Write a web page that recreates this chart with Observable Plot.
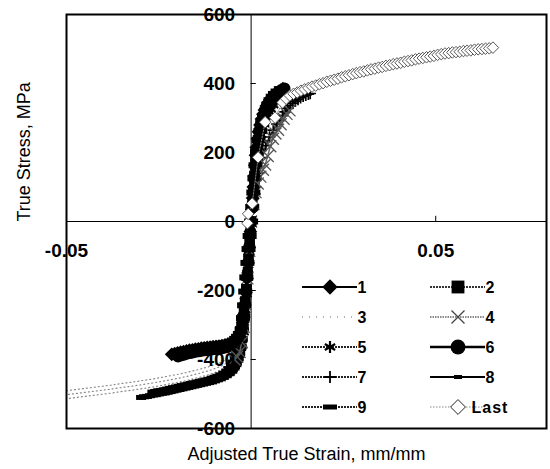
<!DOCTYPE html>
<html><head><meta charset="utf-8">
<script src="https://cdn.jsdelivr.net/npm/d3@7"></script>
<script src="https://cdn.jsdelivr.net/npm/@observablehq/plot@0.6"></script>
<style>
html,body{margin:0;padding:0;background:#fff;}
#chart{position:relative;width:550px;height:469px;}
</style></head><body><div id="chart"></div>
<script>
// ---- axis ticks ----
const xTicks = [-0.05, 0.05];
const xTickLabels = ["-0.05", "0.05"];
const yTicks = [-600, -400, -200, 0, 200, 400, 600];
const yTickLabels = ["-600", "-400", "-200", "0", "200", "400", "600"];
const xTitle = "Adjusted True Strain, mm/mm";
const yTitle = "True Stress, MPa";
const seriesNames = ["1", "2", "3", "4", "5", "6", "7", "8", "9", "Last"];

// ---- series values [strain, stress] ----
const s1 = [[-0.0215,-385],[-0.0207,-383],[-0.0199,-381],[-0.0191,-379],[-0.0183,-377],[-0.0175,-375],[-0.0167,-373],[-0.0159,-372],[-0.0151,-370],[-0.0143,-369],[-0.0135,-367],[-0.0127,-366],[-0.0119,-365],[-0.0111,-364],[-0.0103,-363],[-0.0095,-362],[-0.0087,-361],[-0.0079,-360],[-0.0071,-358],[-0.0063,-356],[-0.0055,-354],[-0.0048,-350],[-0.0042,-345],[-0.0037,-338],[-0.0033,-330],[-0.0029,-320],[-0.0026,-308],[-0.0023,-292],[-0.0020,-270],[-0.0017,-242],[-0.0014,-205],[-0.0011,-165],[-0.0008,-120],[-0.0005,-75],[-0.0002,-30],[0,0],
  [0.0002,35],[0.0004,68],[0.0006,100],[0.0008,132],[0.0010,163],[0.0012,192],[0.0014,215],[0.0017,240],[0.0020,260],[0.0024,280],[0.0028,297],[0.0032,311],[0.0036,323],[0.0041,335],[0.0046,345],[0.0051,353],[0.0056,360],[0.0062,366],[0.0068,372],[0.0074,377],[0.0080,381],[0.0086,385]];
const s2 = [[-0.0130,-368],[-0.0122,-367],[-0.0114,-366],[-0.0106,-365],[-0.0098,-364],[-0.0090,-363],[-0.0082,-361],[-0.0074,-360],[-0.0066,-358],[-0.0058,-355],[-0.0051,-352],[-0.0045,-347],[-0.0040,-341],[-0.0035,-333],[-0.0030,-322],[-0.0026,-308],[-0.0022,-288],[-0.0019,-262],[-0.0016,-232],[-0.0013,-196],[-0.0010,-155],[-0.0007,-110],[-0.0004,-65],[0,0],
  [0.0003,45],[0.0006,90],[0.0009,132],[0.0012,172],[0.0015,203],[0.0019,235],[0.0023,260],[0.0027,280],[0.0031,297],[0.0036,315],[0.0042,332],[0.0048,345],[0.0054,355],[0.0060,363],[0.0067,370],[0.0076,377]];
const s3 = [[-0.0500,-502],[-0.0470,-498],[-0.0440,-494],[-0.0410,-490],[-0.0380,-486],[-0.0350,-481],[-0.0320,-477],[-0.0290,-472],[-0.0260,-467],[-0.0230,-461],[-0.0200,-455],[-0.0170,-448],[-0.0140,-440],[-0.0110,-431],[-0.0085,-421],[-0.0065,-410],[-0.0048,-395],[-0.0035,-370],[-0.0025,-325],[-0.0018,-260],[-0.0012,-180],[-0.0006,-90],[0,0],
  [0.0005,60],[0.0010,125],[0.0015,185],[0.0022,238],[0.0030,278],[0.0040,310],[0.0050,332],[0.0065,352],[0.0080,366]];
const s4 = [[-0.0045,-400],[-0.0038,-392],[-0.0031,-378],[-0.0025,-350],[-0.0020,-305],[-0.0015,-240],[-0.0010,-165],[-0.0005,-85],[0,0],
  [0.0006,50],[0.0012,85],[0.0018,110],[0.0025,130],[0.0032,150],[0.0038,165],[0.0045,190],[0.0052,218],[0.0059,240],[0.0066,255],[0.0073,266],[0.0080,282],[0.0088,298],[0.0096,312],[0.0104,322]];
const s5 = [[-0.0064,-438],[-0.0055,-428],[-0.0046,-415],[-0.0038,-400],[-0.0031,-380],[-0.0025,-355],[-0.0020,-320],[-0.0016,-270],[-0.0012,-210],[-0.0008,-140],[-0.0004,-70],[0,0],
  [0.0004,55],[0.0009,115],[0.0014,170],[0.0020,215],[0.0027,252],[0.0035,283],[0.0044,308],[0.0053,326],[0.0060,338]];
const s6 = [[-0.0198,-392],[-0.0190,-389],[-0.0182,-387],[-0.0174,-384],[-0.0166,-382],[-0.0158,-380],[-0.0150,-378],[-0.0142,-377],[-0.0134,-375],[-0.0126,-374],[-0.0118,-373],[-0.0110,-372],[-0.0102,-371],[-0.0094,-370],[-0.0086,-369],[-0.0078,-368],[-0.0070,-366],[-0.0062,-364],[-0.0055,-361],[-0.0048,-357],[-0.0042,-351],[-0.0037,-343],[-0.0033,-334],[-0.0029,-322],[-0.0026,-310],[-0.0023,-293],[-0.0020,-270],[-0.0017,-240],[-0.0014,-203],[-0.0011,-162],[-0.0008,-118],[-0.0005,-72],[-0.0002,-28],[0,0],
  [0.0003,40],[0.0006,80],[0.0009,118],[0.0012,155],[0.0015,188],[0.0018,215],[0.0022,242],[0.0026,265],[0.0030,283],[0.0035,302],[0.0040,318],[0.0045,331],[0.0050,342],[0.0056,352],[0.0062,361],[0.0068,368],[0.0074,374],[0.0080,379],[0.0086,383],[0.0091,386]];
const s7 = [[-0.0060,-422],[-0.0052,-414],[-0.0045,-404],[-0.0038,-392],[-0.0032,-375],[-0.0026,-345],[-0.0021,-300],[-0.0016,-240],[-0.0011,-170],[-0.0006,-95],[0,0],
  [0.0010,80],[0.0020,140],[0.0030,185],[0.0040,220],[0.0050,245],[0.0060,265],[0.0070,282],[0.0078,293],[0.0085,307],[0.0092,318],[0.0099,328],[0.0106,336],[0.0113,343],[0.0120,349],[0.0127,354],[0.0134,359],[0.0141,363],[0.0148,366],[0.0155,369],[0.0160,371]];
const s8 = [[-0.0298,-510],[-0.0290,-508],[-0.0282,-507],[-0.0274,-505],[-0.0266,-503],[-0.0258,-502],[-0.0250,-500],[-0.0242,-498],[-0.0234,-497],[-0.0226,-495],[-0.0218,-493],[-0.0210,-491],[-0.0202,-489],[-0.0194,-487],[-0.0186,-485],[-0.0178,-483],[-0.0170,-481],[-0.0162,-479],[-0.0154,-477],[-0.0146,-475],[-0.0138,-473],[-0.0130,-471],[-0.0122,-469],[-0.0114,-467],[-0.0106,-465],[-0.0098,-462],[-0.0090,-459],[-0.0082,-456],[-0.0074,-452],[-0.0066,-447],[-0.0058,-441],[-0.0051,-434],[-0.0045,-425],[-0.0040,-415],[-0.0035,-402],[-0.0031,-388],[-0.0027,-368],[-0.0024,-345],[-0.0021,-315],[-0.0018,-278],[-0.0015,-235],[-0.0012,-190],[-0.0009,-140],[-0.0006,-92],[-0.0003,-45],[0,0],
  [0.0003,45],[0.0006,90],[0.0009,135],[0.0012,175],[0.0016,215],[0.0020,245],[0.0024,268],[0.0029,290],[0.0034,310],[0.0040,328],[0.0046,342],[0.0052,352],[0.0058,360],[0.0064,366]];
const s9 = [[-0.0262,-496],[-0.0254,-494],[-0.0246,-492],[-0.0238,-491],[-0.0230,-489],[-0.0222,-487],[-0.0214,-485],[-0.0206,-483],[-0.0198,-481],[-0.0190,-479],[-0.0182,-477],[-0.0174,-475],[-0.0166,-473],[-0.0158,-471],[-0.0150,-469],[-0.0142,-467],[-0.0134,-465],[-0.0126,-463],[-0.0118,-461],[-0.0110,-459],[-0.0102,-456],[-0.0094,-453],[-0.0086,-450],[-0.0078,-446],[-0.0070,-441],[-0.0062,-435],[-0.0055,-428],[-0.0049,-419],[-0.0044,-409],[-0.0039,-396],[-0.0035,-381],[-0.0031,-362],[-0.0028,-340],[-0.0025,-312],[-0.0022,-280],[-0.0019,-243],[-0.0016,-203],[-0.0013,-162],[-0.0010,-120],[-0.0007,-80],[-0.0004,-42],[0,0],
  [0.0003,42],[0.0006,84],[0.0009,125],[0.0012,163],[0.0016,203],[0.0020,235],[0.0025,262],[0.0030,285],[0.0035,303],[0.0041,320],[0.0047,334],[0.0053,344]];
const sLast = [[-0.0010,-5],[-0.0008,22],[0.0003,52],[0.0019,186],[0.0038,288],[0.0065,301],[0.0085,345],[0.0095,356],[0.0105,365],[0.0115,370],[0.0125,374],[0.0135,379],[0.0145,383],[0.0155,387],[0.0165,391],[0.0175,394],[0.0185,398],[0.0195,401],[0.0205,405],[0.0215,408],[0.0225,411],[0.0235,414],[0.0245,418],[0.0255,421],[0.0265,424],[0.0275,427],[0.0285,430],[0.0295,433],[0.0305,435],[0.0315,438],[0.0325,441],[0.0335,443],[0.0345,446],[0.0355,448],[0.0365,451],[0.0375,453],[0.0385,456],[0.0395,458],[0.0405,460],[0.0415,463],[0.0425,465],[0.0435,467],[0.0445,470],[0.0455,472],[0.0465,474],[0.0475,476],[0.0485,478],[0.0495,480],[0.0505,483],[0.0515,485],[0.0525,487],[0.0535,488],[0.0545,490],[0.0555,491],[0.0565,492],[0.0575,494],[0.0585,495],[0.0595,496],[0.0605,498],[0.0615,499],[0.0625,500],[0.0635,501],[0.0645,502],[0.0655,504]];

// ---- styles ----
const bar8 = {draw(ctx){ctx.rect(-5,-2.5,10,5);}};
const bar9 = {draw(ctx){ctx.rect(-7,-3,14,6);}};
const styles = {
  "1":   {data:s1, stroke:"#000", sw:2, dash:null, symbol:"diamond2", fill:"#000", mstroke:"none", r:6.2},
  "2":   {data:s2, stroke:"#333", sw:2, dash:"2,1", symbol:"square", fill:"#000", mstroke:"none", r:6},
  "3":   {data:s3, stroke:"#888", sw:1.2, dash:"1,3", symbol:null},
  "4":   {data:s4, stroke:"#666", sw:1.5, dash:"1.5,1", symbol:"times", fill:"none", mstroke:"#555", r:5.5, msw:1.3},
  "5":   {data:s5, stroke:"#222", sw:2, dash:"2,1", symbol:"asterisk", fill:"none", mstroke:"#000", r:5.5, msw:2},
  "6":   {data:s6, stroke:"#000", sw:2.5, dash:null, symbol:"circle", fill:"#000", mstroke:"none", r:5.8},
  "7":   {data:s7, stroke:"#222", sw:2, dash:"2,1", symbol:"plus", fill:"none", mstroke:"#000", r:3.8, msw:1.7},
  "8":   {data:s8, stroke:"#000", sw:2, dash:null, symbol:bar8, fill:"#000", mstroke:"none", r:4},
  "9":   {data:s9, stroke:"#222", sw:2, dash:"2,1", symbol:bar9, fill:"#000", mstroke:"none", r:4},
  "Last":{data:sLast, stroke:"#888", sw:1, dash:"1.5,1.5", symbol:"diamond2", fill:"#fff", mstroke:"#444", r:5.2, msw:0.9}
};
const drawOrder = ["3","9","8","7","6","5","4","2","1","Last"];

const font = "'Liberation Sans', Arial, sans-serif";
const marks = [];
marks.push(Plot.ruleX([0], {stroke:"#000", strokeWidth:1}));
marks.push(Plot.ruleY([0], {stroke:"#000", strokeWidth:1}));
marks.push(Plot.ruleY(yTicks.filter(v => v !== 0), {y:d => d, x1:() => 0, x2:() => 0.0014, stroke:"#000"}));
marks.push(Plot.ruleX(xTicks, {x:d => d, y1:() => 0, y2:() => 15, stroke:"#000"}));

for (const name of drawOrder) {
  const st = styles[name];
  if (name === "3") {
    for (const [dy, off] of [[-4,0],[0,2],[4,1]]) {
      marks.push(Plot.line(st.data, {x:d => d[0], y:d => d[1], dy, stroke:st.stroke, strokeWidth:st.sw, strokeDasharray:st.dash, strokeDashoffset:off}));
    }
    continue;
  }
  marks.push(Plot.line(st.data, {x:d => d[0], y:d => d[1], stroke:st.stroke, strokeWidth:st.sw, strokeDasharray:st.dash}));
  marks.push(Plot.dot(st.data, {x:d => d[0], y:d => d[1], symbol:() => st.symbol, r:st.r, fill:st.fill, stroke:st.mstroke, strokeWidth:st.msw || 1}));
}

marks.push(Plot.text(yTicks, {x:() => 0, y:d => d, text:(d, i) => yTickLabels[i], textAnchor:"end", dx:-16, fontSize:19, fontWeight:"bold", fill:"#000"}));
marks.push(Plot.text(xTicks, {x:d => d, y:() => 0, text:(d, i) => xTickLabels[i], dy:29, fontSize:19, fontWeight:"bold", fill:"#000"}));
marks.push(Plot.text([xTitle], {frameAnchor:"bottom", dy:31, fontSize:18, fill:"#000", style:"letter-spacing:0.5px"}));
marks.push(Plot.text([yTitle], {frameAnchor:"left", rotate:-90, dx:-42, fontSize:18, fill:"#000"}));
marks.push(Plot.frame({stroke:"#000", strokeWidth:2}));

const chart = Plot.plot({
  width:550, height:469,
  marginLeft:66, marginRight:4, marginTop:14, marginBottom:41,
  x:{domain:[-0.05, 0.08], axis:null},
  y:{domain:[-600, 600], axis:null},
  symbol:{type:"identity"},
  style:{fontFamily:font, background:"#fff", overflow:"visible"},
  marks
});
document.getElementById("chart").appendChild(chart);

// ---- legend (inside the plot frame) ----
const svg = d3.select(chart);
const lg = svg.append("g").attr("font-family", font);
const legendStyle = {
  "1":   {sym:d3.symbolDiamond2, size:150, fill:"#000", stroke:"none"},
  "2":   {sym:d3.symbolSquare, size:165, fill:"#000", stroke:"none"},
  "3":   {sym:null},
  "4":   {sym:d3.symbolTimes, size:112, fill:"none", stroke:"#444", sw:1.3},
  "5":   {sym:d3.symbolAsterisk, size:100, fill:"none", stroke:"#000", sw:2.2},
  "6":   {sym:d3.symbolCircle, size:175, fill:"#000", stroke:"none"},
  "7":   {sym:d3.symbolPlus, size:49, fill:"none", stroke:"#000", sw:1.8},
  "8":   {sym:{draw(ctx){ctx.rect(-4,-2,8,4);}}, size:1, fill:"#000", stroke:"none"},
  "9":   {sym:{draw(ctx){ctx.rect(-7,-2.5,14,5);}}, size:1, fill:"#000", stroke:"none"},
  "Last":{sym:d3.symbolDiamond2, size:140, fill:"#fff", stroke:"#222", sw:1}
};
seriesNames.forEach((name, i) => {
  const col = i % 2, row = Math.floor(i / 2);
  const x0 = col === 0 ? 302 : 430;
  const y0 = 287 + row * 30;
  const st = styles[name], ls = legendStyle[name];
  const g = lg.append("g").attr("transform", `translate(${x0},${y0})`);
  g.append("line").attr("x1", 0).attr("x2", 55).attr("y1", 0).attr("y2", 0)
    .attr("stroke", name === "3" ? "#999" : st.stroke)
    .attr("stroke-width", name === "3" ? 1.5 : st.sw)
    .attr("stroke-dasharray", name === "3" ? "1,6" : st.dash);
  if (ls.sym) {
    g.append("path").attr("transform", "translate(28,0)")
      .attr("d", d3.symbol(ls.sym, ls.size)())
      .attr("fill", ls.fill).attr("stroke", ls.stroke).attr("stroke-width", ls.sw || 1);
  }
  g.append("text").attr("x", 60).attr("y", 0).attr("dy", "0.36em")
    .attr("font-size", 16).attr("font-weight", "bold").attr("letter-spacing", name === "Last" ? 1 : 0)
    .attr("fill", "#000").text(name);
});
</script></body></html>
